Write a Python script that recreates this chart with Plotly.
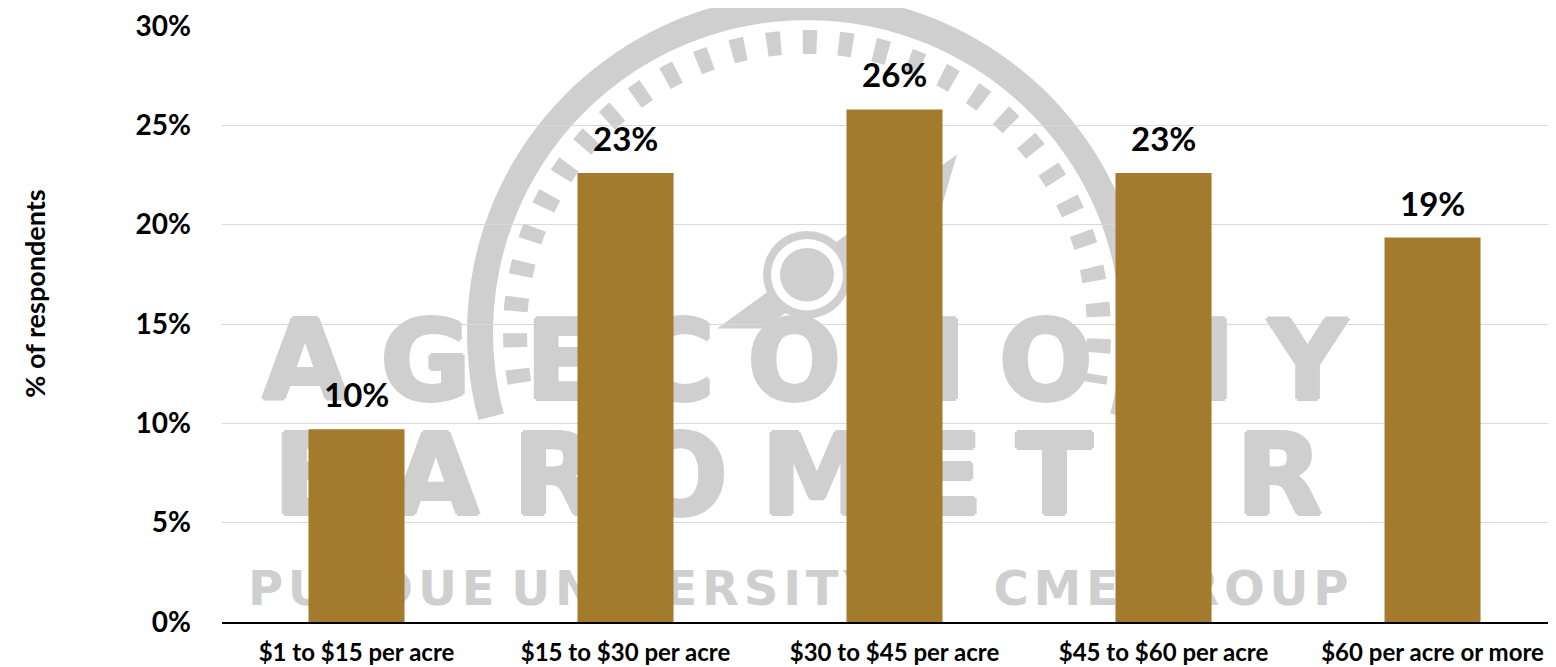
import numpy as np
import plotly.graph_objects as go

# data
categories = ['$1 to $15 per acre', '$15 to $30 per acre', '$30 to $45 per acre',
              '$45 to $60 per acre', '$60 per acre or more']
shares = [0.097, 0.226, 0.258, 0.226, 0.1935]
labels = ['10%', '23%', '26%', '23%', '19%']

bar_color = '#A47A2D'
mark_gray = '#CFCFCF'
font_family = 'Lato, "Open Sans", sans-serif'

# the page body has an 8px margin, so the figure is drawn 8px smaller
PAGE_PAD = 8
# plot box in window pixels
PX0, PX1, PY_TOP, PY_BOT = 222, 1556, 23, 622


def px(x):
    return (x - PX0) / (PX1 - PX0)


def py(y):
    return (PY_BOT - y) / (PY_BOT - PY_TOP)


def arc_path(cx, cy, r, a0, a1, n=90):
    """Polyline arc in paper coords, built from window pixels (y down)."""
    t = np.radians(np.linspace(a0, a1, n))
    xs = cx + r * np.cos(t)
    ys = cy - r * np.sin(t)
    return 'M ' + ' L '.join(f'{px(x):.4f},{py(y):.4f}' for x, y in zip(xs, ys))


def poly_path(points):
    return 'M ' + ' L '.join(f'{px(x):.4f},{py(y):.4f}' for x, y in points) + ' Z'


def disc(cx, cy, r, color):
    return dict(type='circle', xref='paper', yref='paper', layer='below',
                x0=px(cx - r), x1=px(cx + r), y0=py(cy + r), y1=py(cy - r),
                fillcolor=color, line=dict(width=0))


def spaced(word, gap='\u2009'):
    return gap.join(word)


fig = go.Figure()

# watermark, drawn on a hidden base subplot so the bars sit above it
thick = ', '.join(f'{dx}px {dy}px 0 {mark_gray}'
                  for dx, dy in [(2, 0), (-2, 0), (0, 2), (0, -2)])
big_text = [spaced('AG', '\u2009\u200a') + '\u2002' + spaced('ECONOMY', '\u2009\u200a'),
            spaced('BAROMETER', '\u2009\u200a')]
big_x = [805, 798]
big_y = [370, 485]
small_text = [spaced('PURDUE', '\u200a') + ' ' + spaced('UNIVERSITY', '\u200a'),
              spaced('CME', '\u200a') + '\u2009\u2009' + spaced('GROUP', '\u200a')]
small_x = [563, 1171]
small_y = [593, 593]

fig.add_trace(go.Scatter(
    x=big_x, y=big_y, text=big_text, mode='text', cliponaxis=False,
    textfont=dict(family='"DejaVu Sans", sans-serif', size=[110, 112],
                  color=mark_gray, weight='bold', shadow=thick),
    hoverinfo='skip', showlegend=False, xaxis='x', yaxis='y'
))
fig.add_trace(go.Scatter(
    x=small_x, y=small_y, text=small_text, mode='text', cliponaxis=False,
    textfont=dict(family='"DejaVu Sans", sans-serif', size=48,
                  color=mark_gray, weight='bold'),
    hoverinfo='skip', showlegend=False, xaxis='x', yaxis='y'
))

fig.add_trace(go.Bar(
    x=categories, y=shares, marker_color=bar_color, marker_line_width=0,
    xaxis='x2', yaxis='y2', showlegend=False, hoverinfo='x+y'
))

for cat, val, lab in zip(categories, shares, labels):
    fig.add_annotation(
        x=cat, y=val, xref='x2', yref='y2', text=lab, showarrow=False,
        yanchor='bottom', yshift=13,
        font=dict(family=font_family, size=33, color='black', weight='bold')
    )

fig.add_annotation(
    x=px(35), y=py(292), xref='paper', yref='paper', text='% of respondents',
    textangle=-90, showarrow=False, xanchor='center', yanchor='middle',
    font=dict(family=font_family, size=27, color='black', weight='bold')
)

shapes = [
    dict(type='path', xref='paper', yref='paper', layer='below',
         path=arc_path(807, 331, 327, 195, -15),
         line=dict(color=mark_gray, width=26)),
    dict(type='path', xref='paper', yref='paper', layer='below',
         path=arc_path(807, 331, 292, 190, -10),
         line=dict(color=mark_gray, width=24, dash='14px,22px')),
    dict(type='path', xref='paper', yref='paper', layer='below',
         path=poly_path([(717, 327), (957, 152), (940, 210), (762, 327)]),
         fillcolor=mark_gray, line=dict(width=0)),
    disc(807, 273, 44, mark_gray),
    disc(807, 273, 36, 'white'),
    disc(807, 273, 27, mark_gray),
]

fig.update_layout(
    width=1556 - PAGE_PAD, height=667 - PAGE_PAD,
    margin=dict(l=PX0 - PAGE_PAD, r=0, t=PY_TOP - PAGE_PAD, b=667 - PY_BOT),
    paper_bgcolor='white', plot_bgcolor='white',
    bargap=0.643,
    shapes=shapes,
    xaxis=dict(range=[PX0, PX1], visible=False, fixedrange=True),
    yaxis=dict(range=[PY_BOT, PY_TOP], visible=False, fixedrange=True),
    xaxis2=dict(
        overlaying='x', anchor='y2', side='bottom',
        range=[-0.5, 4.459], showgrid=False,
        showline=True, linecolor='black', linewidth=2,
        ticks='', ticklabelstandoff=8,
        tickfont=dict(family=font_family, size=24, color='black', weight='bold')
    ),
    yaxis2=dict(
        overlaying='y', anchor='x2', side='left',
        range=[0, 0.3000001], dtick=0.05, tickformat='.0%',
        showgrid=True, gridcolor='#D9D9D9', gridwidth=1,
        zeroline=False, showline=False, ticks='', ticklabelstandoff=30,
        ticklabeloverflow='allow',
        tickfont=dict(family=font_family, size=28, color='black', weight='bold')
    ),
)

fig.write_html("out.html")
